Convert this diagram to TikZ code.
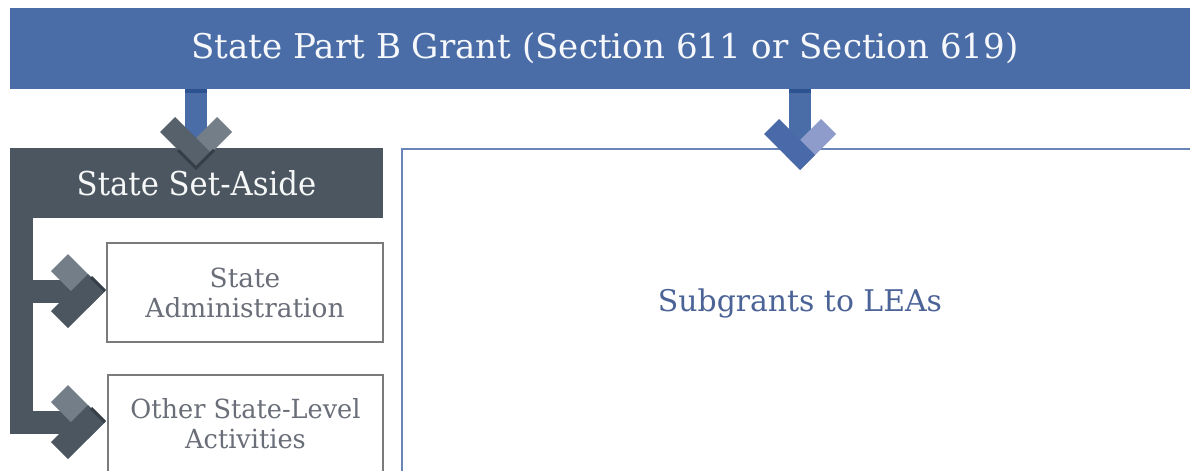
\documentclass[tikz,border=0pt]{standalone}
\usepackage{fontspec}
\setmainfont{DejaVu Serif}
\usetikzlibrary{calc}
\definecolor{bannerblue}{HTML}{4A6DA7}
\definecolor{stemdark}{HTML}{2D5290}
\definecolor{graydark}{HTML}{4B5661}
\definecolor{grayarm}{HTML}{56616B}
\definecolor{graylight}{HTML}{737E88}
\definecolor{grayshadow}{HTML}{363F47}
\definecolor{chevblue}{HTML}{4A69A9}
\definecolor{chevlight}{HTML}{8E9CCB}
\definecolor{boxgray}{HTML}{7B7B7B}
\definecolor{boxtext}{HTML}{6A6E78}
\definecolor{bigline}{HTML}{6A85B8}
\definecolor{leastext}{HTML}{4C6397}
\def\PX{0.02cm}
\newcommand\hs[2]{\scalebox{#1}[1]{#2}}
% down-pointing chevron: #1 cx, #2 tip y, #3 arm extent, #4 arm offset, #5 left colour, #6 right colour
\newcommand\chevdown[6]{%
  \fill[#6] (#1+#3,#2-#3) -- (#1,#2) -- (#1-#4,#2-#4) -- (#1+#3-#4,#2-#3-#4) -- cycle;
  \fill[#5] (#1-#3,#2-#3) -- (#1,#2) -- (#1+#4,#2-#4) -- (#1-#3+#4,#2-#3-#4) -- cycle;}
% right-pointing chevron: #1 tip x, #2 cy, #3 arm extent, #4 arm offset, #5 upper colour, #6 lower colour
\newcommand\chevright[6]{%
  \fill[#5] (#1-#3,#2-#3) -- (#1,#2) -- (#1-#4,#2+#4) -- (#1-#3-#4,#2-#3+#4) -- cycle;
  \fill[#6] (#1-#3,#2+#3) -- (#1,#2) -- (#1-#4,#2-#4) -- (#1-#3-#4,#2+#3-#4) -- cycle;}
\begin{document}
\begin{tikzpicture}[x=0.02cm,y=-0.02cm,
  banner/.style={fill=bannerblue, inner sep=0pt, outer sep=0pt, text=white!95!bannerblue,
    minimum width=1190*\PX, minimum height=81*\PX, font=\fontsize{19.4}{23}\selectfont},
  asidebox/.style={fill=graydark, inner sep=0pt, outer sep=0pt, text=white!95!graydark,
    minimum width=373*\PX, minimum height=70*\PX, font=\fontsize{18.7}{22}\selectfont},
  smallbox/.style={draw=boxgray, line width=2*\PX, fill=white, inner sep=0pt, outer sep=0pt,
    text=boxtext, align=center, font=\fontsize{15}{17}\selectfont},
  leasbox/.style={inner sep=0pt, outer sep=0pt, text=leastext,
    minimum width=796*\PX, minimum height=308*\PX, font=\fontsize{17}{20}\selectfont},
  stem/.style={draw=bannerblue, line width=22*\PX},
  bracket/.style={draw=graydark, line width=23*\PX, line join=miter},
  bigline/.style={draw=bigline, line width=2*\PX}]
\useasboundingbox (0,0) rectangle (1190,470);
\clip (0,0) rectangle (1190,470);
\fill[white] (0,0) rectangle (1190,470);

% nodes
\node[banner] (banner) at (605,48.5) {\hs{1.0}{State Part B Grant (Section 611 or Section 619)}};
\node[asidebox] (aside) at (196.5,183) {\hs{0.935}{State Set-Aside}};
\node[smallbox, minimum width=276*\PX, minimum height=99*\PX] (admin) at (245,292.5)
  {\hs{1.0}{State}\\\hs{1.0}{Administration}};
\node[smallbox, minimum width=275*\PX, minimum height=97*\PX] (other) at (245.5,423.5)
  {\hs{0.97}{Other State-Level}\\\hs{0.97}{Activities}};
\node[leasbox] (leas) at (800,303) {\hs{1.0}{Subgrants to LEAs}};
\draw[bigline] ($(leas.north west)+(0,340)$) -- (leas.north west) -- (leas.north east);

% chevron tips
\coordinate (t1) at (196,168);
\coordinate (t2) at (800,170);
\coordinate (t3) at (105,291);
\coordinate (t4) at (105,422);
\coordinate (bx) at (21.5,0);

% stems from the banner
\draw[stem] (banner.south -| t1) -- ($(t1)+(0,-20)$);
\fill[stemdark] ($(banner.south -| t1)+(-11,0)$) rectangle ($(banner.south -| t1)+(11,4)$);
\draw[stem] (banner.south -| t2) -- ($(t2)+(0,-20)$);
\fill[stemdark] ($(banner.south -| t2)+(-11,0)$) rectangle ($(banner.south -| t2)+(11,4)$);
\chevdown{196}{168}{36}{15}{grayarm}{graylight}
\draw[grayshadow, line width=3*\PX, line join=miter] ($(t1)+(-18,-18)$) -- (t1) -- ($(t1)+(18,-18)$);
\chevdown{800}{170}{36}{15}{chevblue}{chevlight}

% bracket from the set-aside
\draw[bracket] (aside.south -| bx) -- (bx |- t4) -- ($(t4)+(-30,0)$);
\draw[bracket] (bx |- t3) -- ($(t3)+(-30,0)$);
\chevright{105}{291}{37}{17}{graylight}{graydark}
\draw[grayshadow, line width=3*\PX] ($(t3)+(-14,-14)$) -- (t3);
\chevright{105}{422}{37}{17}{graylight}{graydark}
\draw[grayshadow, line width=3*\PX] ($(t4)+(-14,-14)$) -- (t4);
\end{tikzpicture}
\end{document}
